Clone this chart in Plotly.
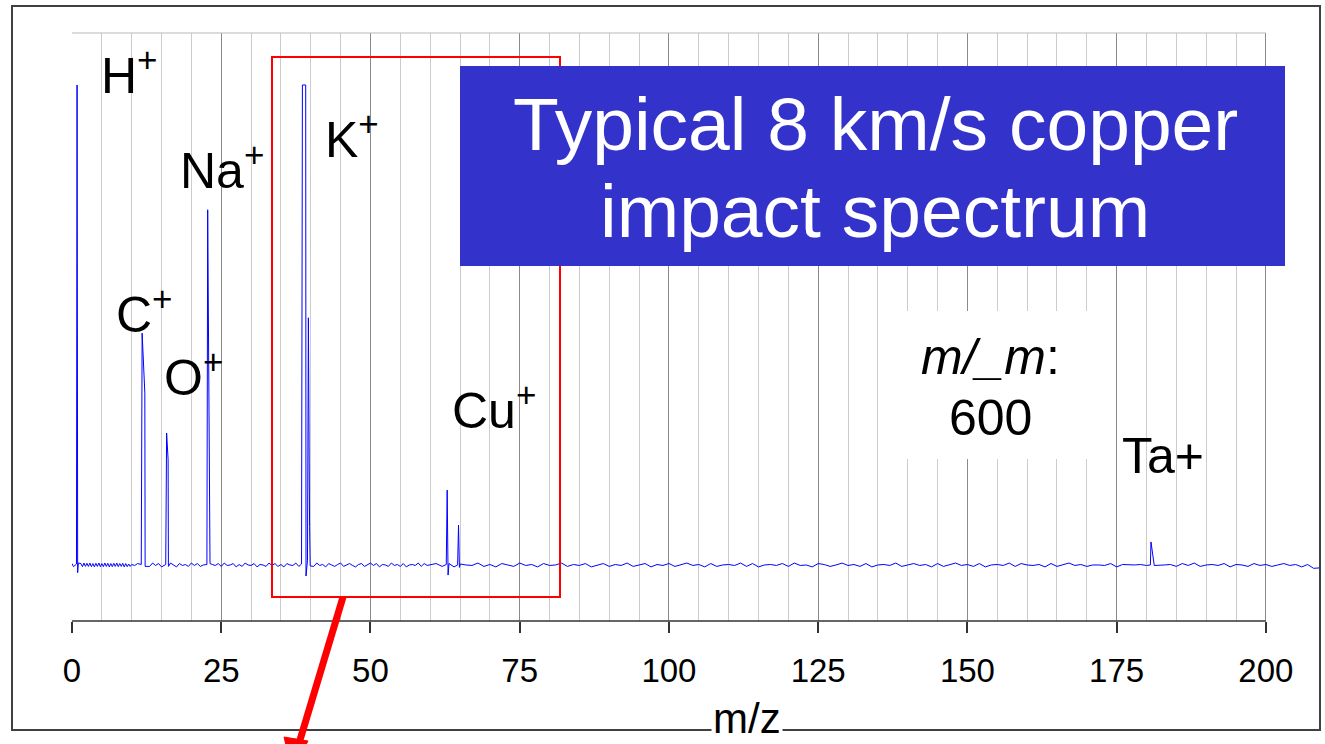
import plotly.graph_objects as go

# ---------------- data ----------------
# intensity in relative units (H+ / K+ saturated peaks = 100)
comb_start, comb_step = 0.0, 0.25          # dense low-mass sampling
comb_noise = [0.3, -0.35, 0.4, -0.3, 0.35, -0.4, 0.3, -0.35, 0.4, -0.3,
              0.35, -0.3, 0.4, -0.35, 0.3, -0.4, 0.35, -0.3, 0.4, -0.35,
              0.3, -0.35, 0.4, -0.3, 0.35, -0.4, 0.3, -0.35, 0.35, -0.3,
              0.4, -0.35, 0.3, -0.3, 0.35, -0.4, 0.3, -0.35, 0.2, -0.3, 0.1]

mid_start, mid_step = 10.5, 0.5
mid_noise = [-0.1, 0.3, -0.4, 0.1, 0.0, -0.3, 0.4, -0.1, 0.3, -0.4,
             0.1, -0.3, 0.4, 0.0, -0.4, 0.3, -0.1, 0.1, -0.3, 0.4,
             -0.1, 0.3, -0.3, 0.0, 0.4, -0.4, 0.1, -0.1, 0.3, -0.3,
             0.4, -0.1, 0.0, 0.3, -0.4, 0.1, -0.3, 0.4, 0.0, -0.1,
             0.3, -0.4, 0.1, 0.0, -0.3, 0.4, -0.1, 0.3, -0.3, 0.1,
             -0.4, 0.3, 0.0, -0.1, 0.4, -0.3, 0.1, -0.4, 0.3, 0.0,
             -0.3, 0.4, -0.1, 0.1, -0.4, 0.3, 0.0, -0.3, 0.1, 0.4,
             -0.3, 0.0, 0.3, -0.1, -0.4, 0.1, 0.3, -0.3, 0.0, 0.4,
             -0.1, 0.3, -0.4, 0.1, 0.0, -0.3, 0.4, -0.1, 0.1, -0.3,
             0.3, -0.4, 0.0, 0.1, -0.1, 0.4, -0.3, 0.3, -0.1, 0.0]

high_start, high_step = 61.0, 1.0
high_noise = [0.3, -0.3, 0.1, -0.4, 0.3, 0.0, -0.1, 0.4, -0.3, 0.1,
              -0.4, 0.3, 0.0, -0.3, 0.4, -0.1, 0.1, -0.4, 0.3, -0.1,
              0.0, 0.4, -0.3, 0.1, -0.1, 0.3, -0.4, 0.0, 0.3, -0.3,
              0.1, -0.1, 0.4, -0.3, 0.0, 0.3, -0.4, 0.1, -0.1, 0.3,
              -0.3, 0.0, 0.4, -0.1, 0.1, -0.4, 0.3, -0.3, 0.0, 0.1,
              -0.1, 0.4, -0.3, 0.3, -0.4, 0.0, 0.1, -0.1, 0.3, -0.3,
              0.4, -0.1, 0.0, -0.4, 0.3, 0.1, -0.3, 0.0, 0.4, -0.1,
              0.1, -0.3, 0.3, -0.4, 0.0, 0.1, -0.1, 0.4, -0.3, 0.0,
              0.3, -0.1, 0.1, -0.4, 0.3, -0.3, 0.0, 0.4, -0.1, 0.1,
              -0.3, 0.3, -0.4, 0.0, 0.1, -0.1, 0.4, -0.3, 0.3, 0.0,
              -0.1, 0.1, -0.4, 0.3, -0.3, 0.0, 0.4, -0.1, 0.1, -0.3,
              0.0, 0.0, -0.1, 0.3, -0.4, 0.1, 0.0, 0.0, 0.1, -0.1,
              0.3, -0.1, 0.0, 0.1, -0.3, 0.3, -0.1, 0.4, -0.3, 0.0,
              0.1, -0.1, 0.3, -0.4, 0.1, 0.0, -0.3, 0.3, -0.1, 0.1,
              -0.3, 0.0, 0.3, -0.1, 0.1, -0.4, 0.1, -0.7, -0.6]

# peak profiles (m/z, intensity)
peak_mz = [0.75, 0.85, 0.95, 1.05,                       # H+
           11.6, 11.75, 12.2, 12.25,                      # C+
           15.7, 15.85, 16.1, 16.15,                      # O+
           22.6, 22.73, 23.05, 23.12,                     # Na+
           38.45, 38.6, 39.15, 39.2, 39.45, 39.6, 39.8, 39.9,  # K+
           62.7, 62.85, 63.0, 63.15,                      # Cu+ 63
           64.6, 64.75, 64.9, 65.05,                      # Cu+ 65
           180.65, 180.75, 181.3]                         # Ta+
peak_int = [0.2, 100.0, -1.6, 0.4,
            0.1, 48.3, 35.8, -0.3,
            0.1, 27.5, 21.9, -0.3,
            0.1, 74.0, 23.0, 0.3,
            0.2, 100.0, 100.0, -2.3, 1.0, 51.5, 8.0, -0.2,
            0.1, 15.6, -2.1, 0.3,
            0.0, 8.3, -0.5, 0.2,
            0.0, 4.8, -0.1]

ion_labels = ["H<sup>+</sup>", "C<sup>+</sup>", "O<sup>+</sup>", "Na<sup>+</sup>",
              "K<sup>+</sup>", "Cu<sup>+</sup>", "Ta+"]
label_mz = [9.55, 12.1, 20.4, 25.1, 46.9, 70.7, 182.7]
label_int = [102.7, 52.9, 39.8, 82.9, 89.3, 32.9, 22.7]

x_ticks = [0, 25, 50, 75, 100, 125, 150, 175, 200]
x_minor = [v for v in range(5, 200, 5) if v % 25 != 0]
title_lines = ["Typical 8 km/s copper", "impact spectrum"]
resolution_lines = ["<i>m/_m</i>:", "600"]
x_title = "m/z"

# ---------------- assemble the trace ----------------
pts = []
for start, step, vals in [(comb_start, comb_step, comb_noise),
                          (mid_start, mid_step, mid_noise),
                          (high_start, high_step, high_noise)]:
    for i, v in enumerate(vals):
        m = start + i * step
        if all(abs(m - p) > 0.3 for p in peak_mz):
            pts.append((m, v))
pts += list(zip(peak_mz, peak_int))
pts.sort()
xs = [p[0] for p in pts]
ys = [p[1] for p in pts]

# ---------------- layout helpers ----------------
W, H = 1325, 744
L, R, T, B = 72, 1322, 33, 621
def pxx(x):
    return (x - L) / (R - L)
def pxy(y):
    return (B - y) / (B - T)

FONT = "Liberation Sans, Arial, sans-serif"

fig = go.Figure()
fig.add_trace(go.Scatter(x=xs, y=ys, mode="lines",
                         line=dict(color="#0000FF", width=1),
                         hoverinfo="skip", showlegend=False))

shapes = []
# outer frame
shapes.append(dict(type="rect", xref="paper", yref="paper",
                   x0=pxx(12), x1=pxx(1320), y0=pxy(730), y1=pxy(6),
                   line=dict(color="#404040", width=2), layer="below"))
# plot area top border
shapes.append(dict(type="line", xref="x", yref="paper", x0=0, x1=200, y0=1, y1=1,
                   line=dict(color="#b8b8b8", width=1.2)))
# bottom axis line
shapes.append(dict(type="line", xref="x", yref="paper", x0=0, x1=200, y0=0, y1=0,
                   line=dict(color="#333333", width=1.5)))
# red zoom rectangle
shapes.append(dict(type="rect", xref="paper", yref="paper",
                   x0=pxx(272), x1=pxx(560), y0=pxy(597), y1=pxy(57),
                   line=dict(color="#FF0000", width=2)))
# red arrow stem
shapes.append(dict(type="line", xref="paper", yref="paper",
                   x0=pxx(343), y0=pxy(597), x1=pxx(294), y1=pxy(760),
                   line=dict(color="#FF0000", width=7)))
shapes.append(dict(type="path", xref="paper", yref="paper",
                   path="M %f,%f L %f,%f L %f,%f Z" % (pxx(284), pxy(737), pxx(308), pxy(741),
                                                      pxx(292), pxy(770)),
                   fillcolor="#FF0000", line=dict(color="#FF0000", width=1)))
# blue title box
shapes.append(dict(type="rect", xref="paper", yref="paper",
                   x0=pxx(460), x1=pxx(1285), y0=pxy(266), y1=pxy(66),
                   fillcolor="#3333CC", line=dict(width=0)))
# white box behind resolution text
shapes.append(dict(type="rect", xref="paper", yref="paper",
                   x0=pxx(902), x1=pxx(1092), y0=pxy(459), y1=pxy(311),
                   fillcolor="white", line=dict(width=0)))

annotations = []
for t, xm, yi in zip(ion_labels, label_mz, label_int):
    annotations.append(dict(x=xm, y=yi, xref="x", yref="y", text=t, showarrow=False,
                            xanchor="center", yanchor="middle",
                            font=dict(family=FONT, size=50, color="black")))
for t, yy in zip(title_lines, [124, 211]):
    annotations.append(dict(x=pxx(875), y=pxy(yy), xref="paper", yref="paper", text=t,
                            showarrow=False, xanchor="center", yanchor="middle",
                            font=dict(family=FONT, size=75, color="white")))
for t, yy in zip(resolution_lines, [357, 418]):
    annotations.append(dict(x=pxx(990), y=pxy(yy), xref="paper", yref="paper", text=t,
                            showarrow=False, xanchor="center", yanchor="middle",
                            font=dict(family=FONT, size=50, color="black")))
annotations.append(dict(x=pxx(747), y=pxy(718), xref="paper", yref="paper", text=x_title,
                        showarrow=False, xanchor="center", yanchor="middle", bgcolor="white",
                        font=dict(family=FONT, size=42, color="black")))

fig.update_layout(
    width=W, height=H,
    margin=dict(l=L, r=W - R, t=T, b=H - B, pad=0),
    paper_bgcolor="white", plot_bgcolor="white",
    showlegend=False,
    shapes=shapes, annotations=annotations,
    xaxis=dict(range=[0, 209.4], tickmode="array", tickvals=x_ticks,
               ticktext=[str(v) for v in x_ticks],
               ticks="outside", ticklen=11, tickwidth=1.5, tickcolor="#333333",
               showgrid=True, gridcolor="#8a8a8a", gridwidth=1,
               minor=dict(tickmode="array", tickvals=x_minor, showgrid=True,
                          gridcolor="#cccccc", gridwidth=1, ticks=""),
               showline=False, zeroline=False,
               tickfont=dict(family=FONT, size=33, color="black"),
               ticklabelstandoff=9, fixedrange=True),
    yaxis=dict(range=[-11.67, 110.83], showgrid=False, zeroline=False,
               showticklabels=False, ticks="", showline=False, fixedrange=True),
)

fig.write_html("out.html", config={"displayModeBar": False},
               post_script="document.body.style.margin='0';document.body.style.overflow='hidden';")
